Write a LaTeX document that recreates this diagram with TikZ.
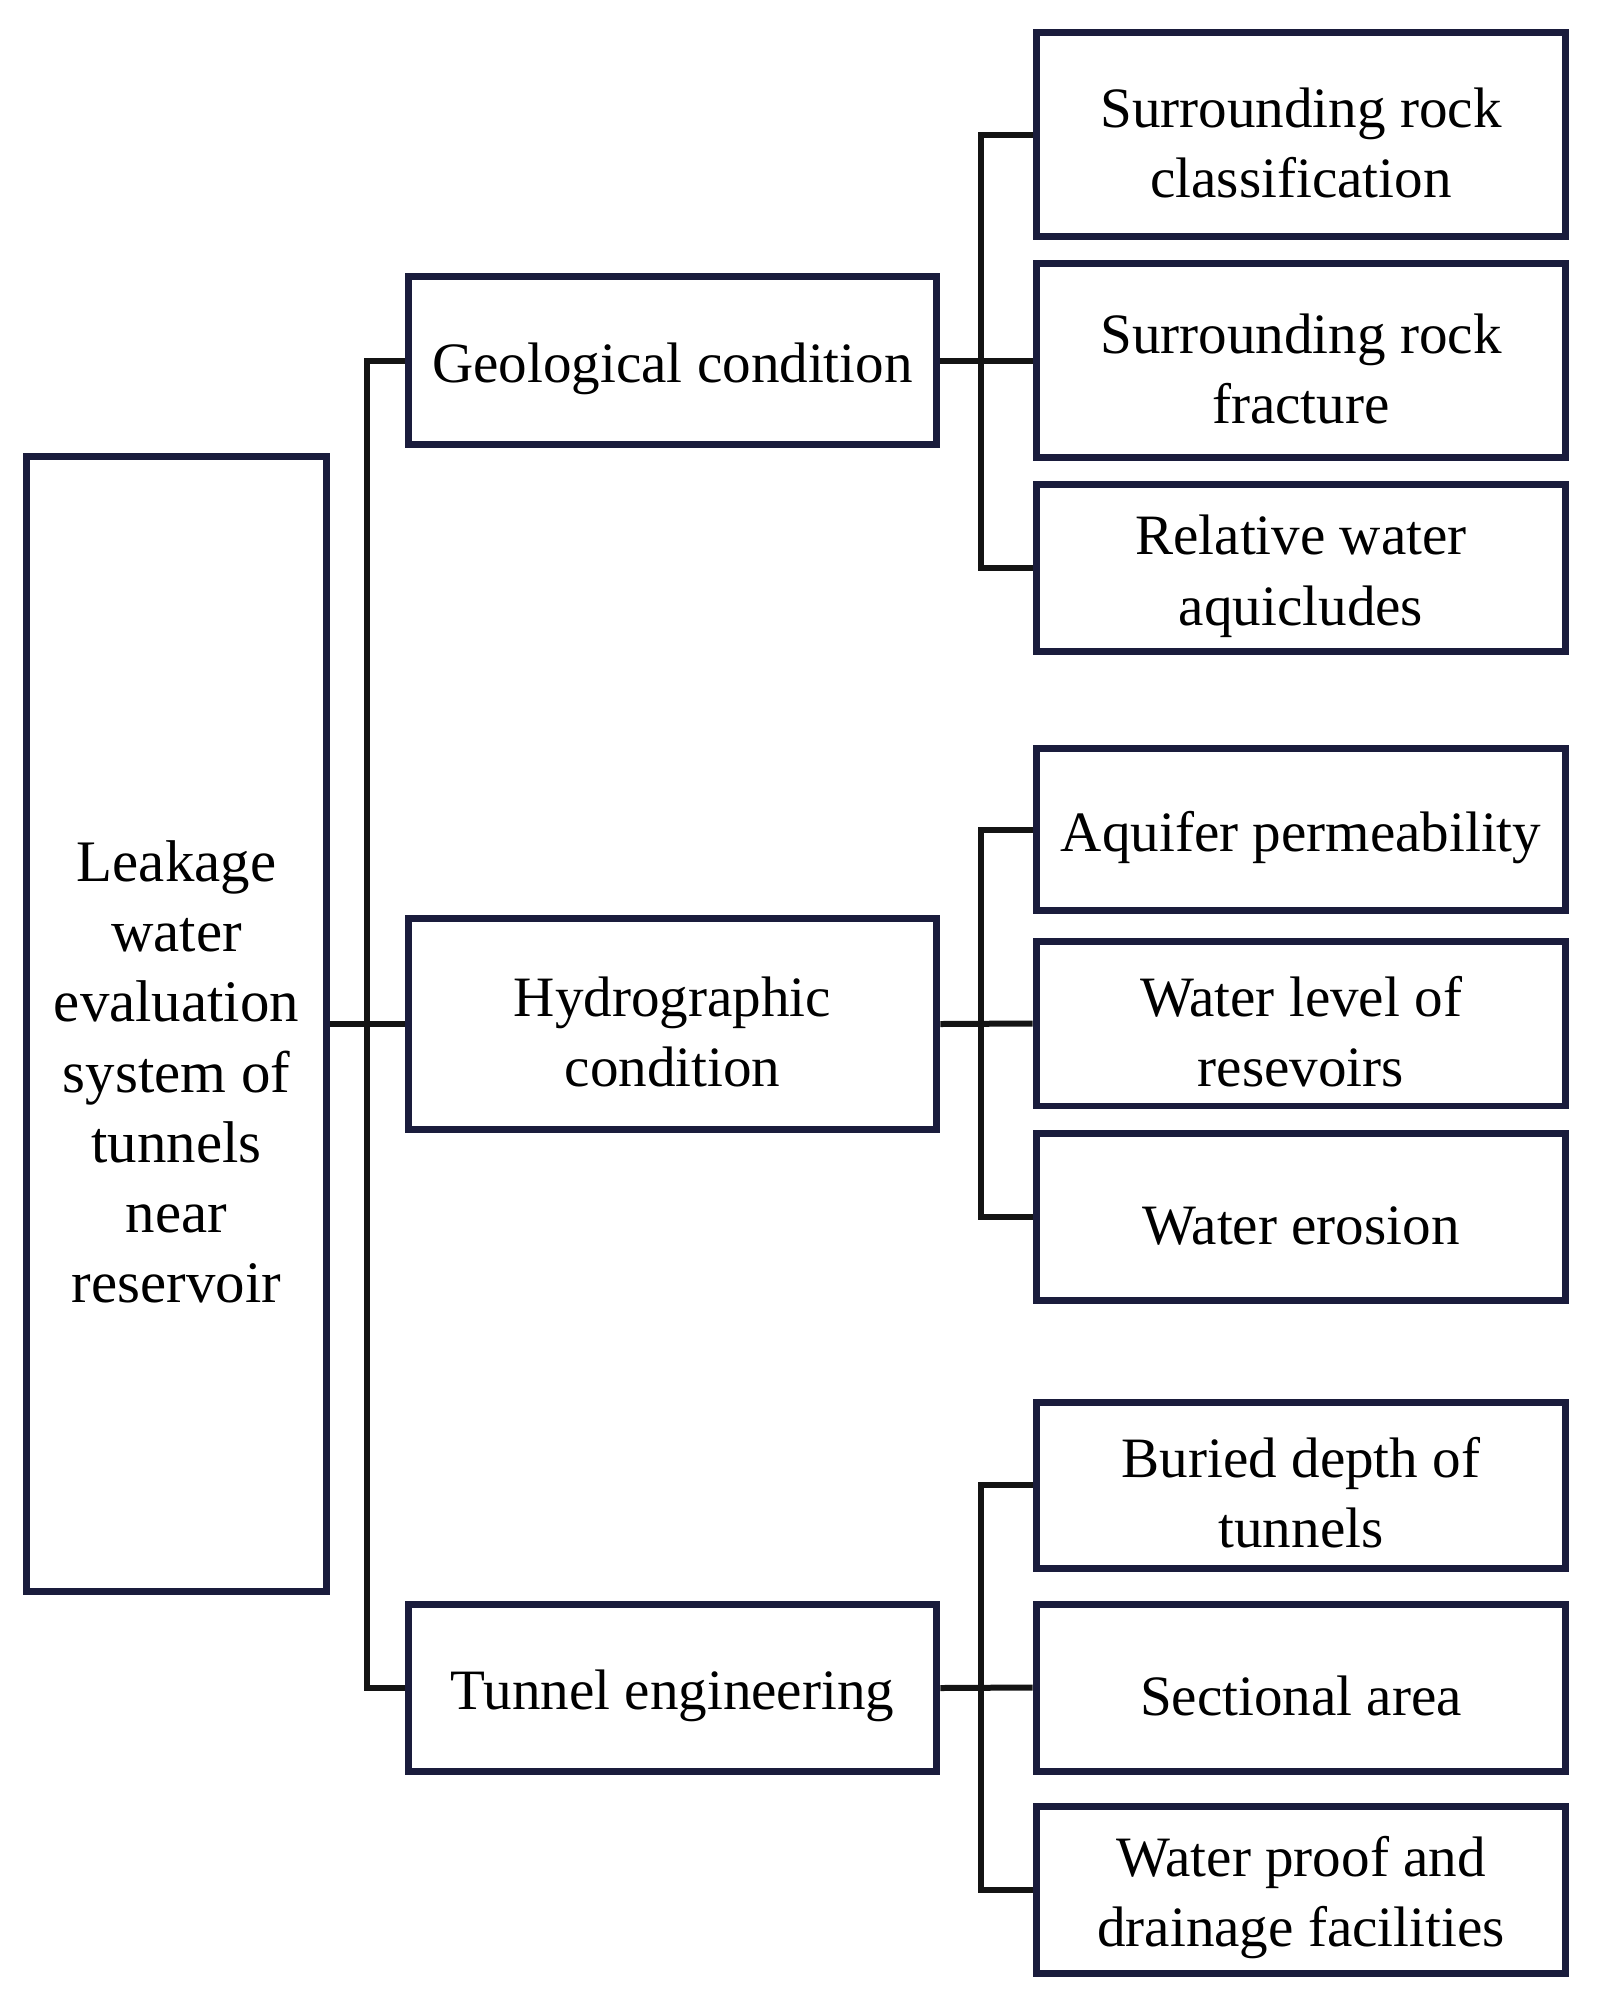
\documentclass[tikz,border=0pt]{standalone}
\usepackage{fontspec}
\setmainfont{Liberation Serif}

\definecolor{boxline}{RGB}{26,28,60}
\definecolor{linkline}{RGB}{20,20,20}

\begin{document}
\begin{tikzpicture}[
  x=0.02cm, y=-0.02cm,
  box/.style={draw=boxline, line width=0.14cm, fill=white, align=center, inner sep=0pt,
    execute at begin node={\rule{0pt}{32pt}}, font=\fontsize{32.5}{40}\selectfont},
  twoline/.style={execute at begin node={\rule{0pt}{72pt}}},
  midbox/.style={box, minimum width=10.58cm},
  subbox/.style={box, minimum width=10.6cm},
  link/.style={draw=linkline, line width=0.12cm}
]
\useasboundingbox (0,0) rectangle (1598,2012);

\node [box, minimum width=6.02cm, minimum height=22.72cm] (root) at (176.5,1024) {};
\node [align=center, font=\fontsize{33.5}{40}\selectfont] (rootlbl) at (176.5,1072)
  {Leakage\\water\\evaluation\\system of\\tunnels\\near\\reservoir};

\node [midbox, minimum height=3.38cm] (geo) at (672.5,360.5) {Geological condition};
\node [midbox, twoline, minimum height=4.24cm] (hydro) at (672.5,1024) {Hydrographic\\condition};
\node [midbox, minimum height=3.34cm] (tunnel) at (672.5,1688) {Tunnel engineering};

\node [subbox, twoline, minimum height=4.1cm] (rockcls) at (1301,134.5) {Surrounding rock\\classification};
\node [subbox, twoline, minimum height=3.9cm] (rockfrac) at (1301,360.5) {Surrounding rock\\fracture};
\node [subbox, twoline, minimum height=3.36cm] (aquiclude) at (1301,568) {Relative water\\aquicludes};

\node [subbox, minimum height=3.26cm] (permeab) at (1301,829.5) {Aquifer permeability};
\node [subbox, twoline, minimum height=3.3cm] (waterlvl) at (1301,1023.5) {Water level of\\resevoirs};
\node [subbox, minimum height=3.34cm] (erosion) at (1301,1216.5) {Water erosion};

\node [subbox, twoline, minimum height=3.32cm] (depth) at (1301,1485) {Buried depth of\\tunnels};
\node [subbox, minimum height=3.34cm] (section) at (1301,1687.5) {Sectional area};
\node [subbox, twoline, minimum height=3.34cm] (drainage) at (1301,1889.5) {Water proof and\\drainage facilities};

\draw [link] (root.east) -- (hydro.west);
\draw [link] (geo.west) -- ++(-38,0) |- (tunnel.west);

\draw [link] (geo.east) -- (rockfrac.west);
\draw [link] (rockcls.west) -- ++(-51.5,0) |- (aquiclude.west);

\draw [link] (hydro.east) -- (waterlvl.west);
\draw [link] (permeab.west) -- ++(-51.5,0) |- (erosion.west);

\draw [link] (tunnel.east) -- (section.west);
\draw [link] (depth.west) -- ++(-51.5,0) |- (drainage.west);
\end{tikzpicture}
\end{document}
